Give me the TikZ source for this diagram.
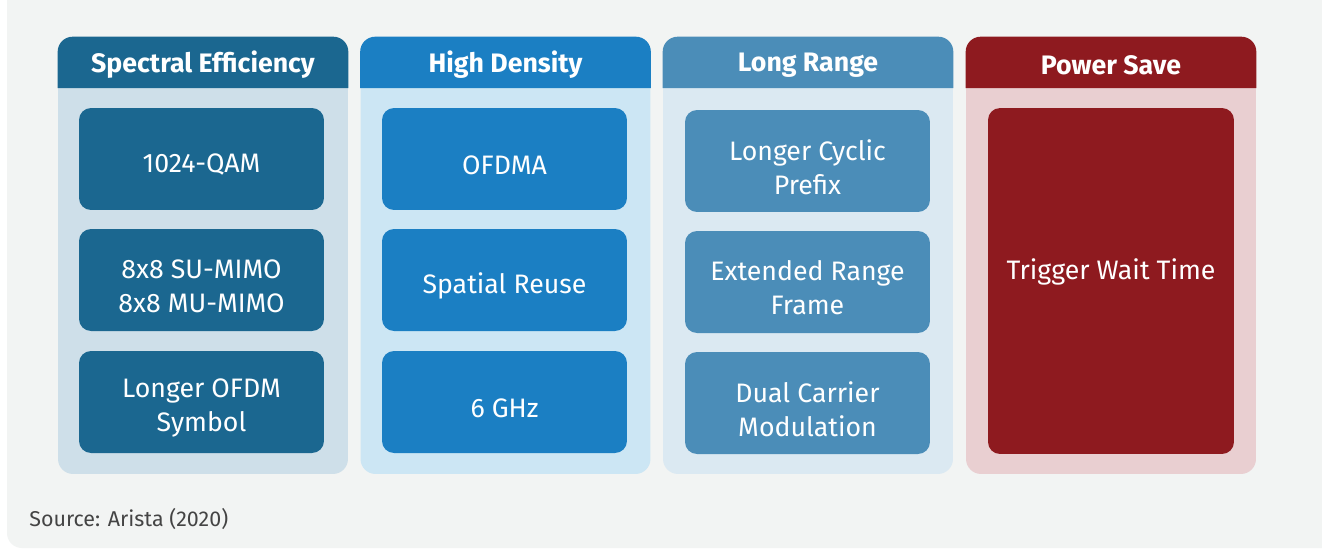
\documentclass[tikz,border=0pt]{standalone}
\usepackage{fontspec}
\setmainfont{Fira Sans}
\usetikzlibrary{positioning}

\definecolor{pagebg}{HTML}{F2F4F3}
\definecolor{seDark}{HTML}{1B6790}
\definecolor{seLight}{HTML}{CEDFE9}
\definecolor{hdDark}{HTML}{1B7FC3}
\definecolor{hdLight}{HTML}{CCE6F4}
\definecolor{lrDark}{HTML}{4B8DB8}
\definecolor{lrLight}{HTML}{DBE9F2}
\definecolor{psDark}{HTML}{8E1A1F}
\definecolor{psLight}{HTML}{E9CFD1}
\definecolor{srcText}{HTML}{444444}

\tikzset{
  colbody/.style={rectangle, rounded corners=0.3cm, minimum width=5.8cm, minimum height=8.74cm, inner sep=0pt},
  colhead/.style={text=white, font=\fontsize{15.2}{18}\selectfont\bfseries},
  itembox/.style={rectangle, rounded corners=0.24cm, minimum width=4.9cm, minimum height=2.04cm, inner sep=0pt},
  itemtext/.style={text=white, align=center, inner sep=0pt, yshift=-0.12cm, font=\fontsize{15.2}{19.3}\selectfont},
}

\begin{document}
\begin{tikzpicture}[x=0.02cm, y=-0.02cm]
    \useasboundingbox (0,0) rectangle (1322,549);
    \fill[white] (0,0) rectangle (1322,549);
    % 背景
    \fill[pagebg, rounded corners=0.3cm] (7,-30) rectangle (1340,548);

    % 列の本体
    \node[colbody, fill=seLight] (SE) at (203, 255.5) {};
    \node[colbody, fill=hdLight] (HD) at (505.5, 255.5) {};
    \node[colbody, fill=lrLight] (LR) at (808, 255.5) {};
    \node[colbody, fill=psLight] (PS) at (1111, 255.5) {};

    % 見出しの帯
    \fill[seDark] (SE.west |- 0,88) [rounded corners=0.3cm] -- (SE.north west) -- (SE.north east) [sharp corners] -- (SE.east |- 0,88) -- cycle;
    \fill[hdDark] (HD.west |- 0,88) [rounded corners=0.3cm] -- (HD.north west) -- (HD.north east) [sharp corners] -- (HD.east |- 0,88) -- cycle;
    \fill[lrDark] (LR.west |- 0,88) [rounded corners=0.3cm] -- (LR.north west) -- (LR.north east) [sharp corners] -- (LR.east |- 0,88) -- cycle;
    \fill[psDark] (PS.west |- 0,88) [rounded corners=0.3cm] -- (PS.north west) -- (PS.north east) [sharp corners] -- (PS.east |- 0,88) -- cycle;

    \node[colhead] (SE_head) at (203, 65) {Spectral Efficiency};
    \node[colhead] (HD_head) at (505.5, 65) {High Density};
    \node[colhead] (LR_head) at (808, 65) {Long Range};
    \node[colhead] (PS_head) at (1111, 65) {Power Save};

    % 各項目
    \node[itembox, fill=seDark, label={[itemtext]center:1024-QAM}] (SE_qam) at (201.5, 159) {};
    \node[itembox, fill=seDark, label={[itemtext]center:8x8 SU-MIMO\\8x8 MU-MIMO}] (SE_mimo) at (201.5, 280) {};
    \node[itembox, fill=seDark, label={[itemtext]center:Longer OFDM\\Symbol}] (SE_sym) at (201.5, 402) {};

    \node[itembox, fill=hdDark, label={[itemtext]center:OFDMA}] (HD_ofdma) at (504.5, 159) {};
    \node[itembox, fill=hdDark, label={[itemtext]center:Spatial Reuse}] (HD_reuse) at (504.5, 280) {};
    \node[itembox, fill=hdDark, label={[itemtext]center:6 GHz}] (HD_ghz) at (504.5, 402) {};

    \node[itembox, fill=lrDark, label={[itemtext]center:Longer Cyclic\\Prefix}] (LR_cp) at (807.5, 161) {};
    \node[itembox, fill=lrDark, label={[itemtext]center:Extended Range\\Frame}] (LR_erf) at (807.5, 282) {};
    \node[itembox, fill=lrDark, label={[itemtext]center:Dual Carrier\\Modulation}] (LR_dcm) at (807.5, 403) {};

    \node[itembox, fill=psDark, minimum height=6.92cm, minimum width=4.92cm,
      label={[itemtext, yshift=0.30cm]center:Trigger Wait Time}] (PS_twt) at (1111, 281) {};

    \node[anchor=west, inner sep=0pt, text=srcText, font=\fontsize{12.2}{14}\selectfont] (source) at (29, 519) {Source: Arista (2020)};

  \end{tikzpicture}
\end{document}
